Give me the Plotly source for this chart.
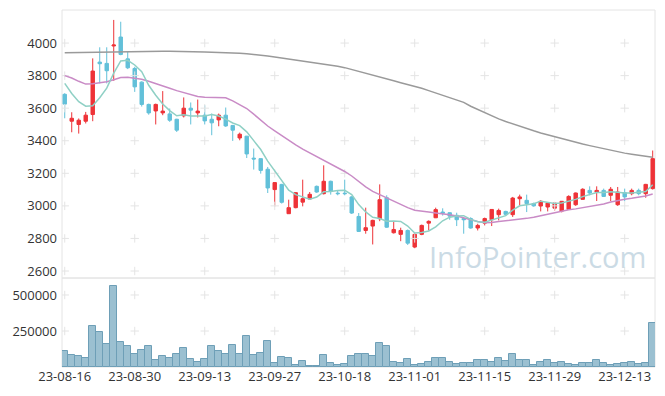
import plotly.graph_objects as go

dates = ["23-08-16","23-08-17","23-08-18","23-08-21","23-08-22","23-08-23","23-08-24","23-08-25","23-08-28","23-08-29",
         "23-08-30","23-08-31","23-09-01","23-09-04","23-09-05","23-09-06","23-09-07","23-09-08","23-09-11","23-09-12",
         "23-09-13","23-09-14","23-09-15","23-09-18","23-09-19","23-09-20","23-09-21","23-09-22","23-09-25","23-09-26",
         "23-09-27","23-10-04","23-10-05","23-10-06","23-10-10","23-10-11","23-10-12","23-10-13","23-10-16","23-10-17",
         "23-10-18","23-10-19","23-10-20","23-10-23","23-10-24","23-10-25","23-10-26","23-10-27","23-10-30","23-10-31",
         "23-11-01","23-11-02","23-11-03","23-11-06","23-11-07","23-11-08","23-11-09","23-11-10","23-11-13","23-11-14",
         "23-11-15","23-11-16","23-11-17","23-11-20","23-11-21","23-11-22","23-11-23","23-11-24","23-11-27","23-11-28",
         "23-11-29","23-11-30","23-12-01","23-12-04","23-12-05","23-12-06","23-12-07","23-12-08","23-12-11","23-12-12",
         "23-12-13","23-12-14","23-12-15","23-12-18","23-12-19"]

opens = [3685,3520,3500,3520,3561,3883,3875,3982,4037,3903,
         3844,3760,3623,3583,3571,3565,3532,3553,3600,3571,
         3557,3532,3528,3557,3494,3417,3428,3293,3290,3225,
         3100,3132,2952,2989,3023,3042,3120,3075,3151,3078,
         3078,3055,2935,2849,2876,2921,3050,2835,2825,2849,
         2747,2825,2894,2927,2962,2958,2942,2922,2922,2864,
         2894,2915,2946,2966,2946,3044,3034,3014,2999,2993,
         2986,2968,2978,3007,3040,3095,3085,3095,3065,3007,
         3081,3075,3095,3075,3106]
highs = [3692,3575,3537,3577,3906,3974,3974,4142,4131,3946,
         3854,3765,3628,3628,3705,3598,3535,3666,3635,3653,
         3618,3567,3567,3604,3497,3450,3430,3352,3292,3239,
         3145,3135,3038,3085,3161,3085,3125,3249,3155,3095,
         3161,3060,2956,2989,2915,3132,3065,2906,2866,2855,
         2830,2885,2911,2989,2985,2960,2958,2925,2930,2890,
         2928,2980,2983,2970,3055,3069,3069,3020,3035,3020,
         3020,3030,3065,3082,3108,3120,3120,3106,3116,3116,
         3106,3106,3106,3135,3340]
lows = [3538,3452,3444,3506,3520,3752,3752,3768,3925,3840,
        3700,3610,3560,3500,3557,3516,3454,3543,3500,3543,
        3500,3434,3489,3485,3399,3403,3294,3223,3198,3079,
        2997,3014,2950,2985,2997,3040,3080,3070,3069,3065,
        3065,2950,2840,2829,2763,2906,2865,2830,2783,2760,
        2740,2820,2849,2925,2940,2915,2876,2829,2860,2849,
        2880,2876,2911,2940,2932,3003,2962,2995,2966,2966,
        2972,2960,2975,3000,3038,3065,3030,3055,3030,3000,
        3028,3065,3065,3050,3100]
closes = [3625,3538,3526,3557,3828,3873,3830,3988,3930,3848,
          3731,3623,3571,3623,3582,3526,3465,3600,3588,3582,
          3522,3510,3557,3491,3465,3440,3319,3288,3218,3110,
          3143,3022,2989,3081,3044,3071,3085,3151,3091,3075,
          3075,2956,2843,2866,2911,3038,2869,2855,2849,2771,
          2825,2880,2905,2977,2955,2937,2915,2915,2864,2880,
          2922,2978,2972,2948,3048,3055,3014,3000,3028,3017,
          3017,3028,3058,3079,3102,3079,3095,3058,3102,3085,
          3055,3095,3075,3132,3290]
volumes = [111000,83000,76000,63000,285000,243000,160000,563000,174000,146000,
           90000,118000,146000,49000,76000,63000,90000,132000,56000,35000,
           56000,146000,111000,90000,153000,90000,215000,83000,97000,181000,
           28000,69000,63000,14000,42000,7000,7000,83000,26000,14000,
           18000,74000,88000,88000,74000,164000,144000,35000,25000,53000,
           12000,18000,32000,60000,60000,32000,18000,25000,25000,46000,
           46000,32000,60000,39000,88000,46000,46000,12000,32000,46000,
           25000,32000,18000,12000,25000,25000,46000,25000,12000,18000,
           25000,32000,18000,25000,303000]

ma5_head = [3752, 3690, 3640, 3612]
ma20_head = [3800, 3785, 3765, 3748, 3750, 3755, 3762, 3775, 3788, 3790,
             3786, 3778, 3765, 3752, 3738, 3722, 3708, 3697, 3686]
ma_long = [3940,3941,3942,3943,3944,3945,3946,3947,3948,3949,
           3950,3950,3950,3950,3950,3949,3949,3948,3947,3946,
           3945,3944,3943,3941,3939,3937,3934,3931,3926,3921,
           3915,3909,3902,3895,3889,3883,3877,3871,3864,3857,
           3849,3838,3827,3815,3803,3791,3780,3768,3756,3746,
           3734,3722,3708,3694,3680,3666,3651,3636,3612,3592,
           3572,3553,3534,3518,3503,3489,3475,3461,3448,3436,
           3425,3413,3402,3391,3380,3370,3360,3350,3340,3332,
           3324,3317,3311,3304,3298]

price_ticks = [2600, 2800, 3000, 3200, 3400, 3600, 3800, 4000]
volume_ticks = [250000, 500000]
tick_dates = dates[0:81:10]


def rolling(vals, n, head):
    out = list(head)
    for i in range(len(head), len(vals)):
        out.append(sum(vals[i - n + 1:i + 1]) / n)
    return out

ma5 = rolling(closes, 5, ma5_head)
ma20 = rolling(closes, 20, ma20_head)

RED = "#ee3338"
BLUE = "#62c0d9"
FONT = "Open Sans"

fig = go.Figure()

fig.add_trace(go.Bar(x=dates, y=volumes, xaxis="x", yaxis="y2", showlegend=False,
                     marker=dict(color="#9bc0d1", line=dict(color="#6e9fb7", width=1))))

# grid crosses
gx, gy = [], []
for d in tick_dates:
    for p in price_ticks:
        gx.append(d); gy.append(p)
fig.add_trace(go.Scatter(x=gx, y=gy, mode="markers", xaxis="x", yaxis="y",
                         marker=dict(symbol="cross-thin", size=6, line=dict(width=1, color="#e4e4e4")),
                         hoverinfo="skip", showlegend=False))
vx, vy = [], []
for d in tick_dates:
    for v in volume_ticks:
        vx.append(d); vy.append(v)
fig.add_trace(go.Scatter(x=vx, y=vy, mode="markers", xaxis="x", yaxis="y2",
                         marker=dict(symbol="cross-thin", size=6, line=dict(width=1, color="#e4e4e4")),
                         hoverinfo="skip", showlegend=False))

fig.add_trace(go.Scatter(x=dates, y=ma_long, mode="lines", line=dict(color="#9a9a9a", width=1.5),
                         xaxis="x", yaxis="y", showlegend=False))
fig.add_trace(go.Scatter(x=dates, y=ma20, mode="lines", line=dict(color="#c98bc6", width=1.5),
                         xaxis="x", yaxis="y", showlegend=False))
fig.add_trace(go.Scatter(x=dates, y=ma5, mode="lines", line=dict(color="#8fd0c5", width=1.5),
                         xaxis="x", yaxis="y", showlegend=False))

fig.add_trace(go.Candlestick(x=dates, open=opens, high=highs, low=lows, close=closes,
                             xaxis="x", yaxis="y", showlegend=False, whiskerwidth=0,
                             increasing=dict(line=dict(color=RED, width=1), fillcolor=RED),
                             decreasing=dict(line=dict(color=BLUE, width=1), fillcolor=BLUE)))

# page body has an 8px default margin; figure is sized to fit the window from (8,8)
W, H = 657, 388
L, T, R, B = 54, 2, 10, 29
plot_h = H - T - B
split = (359 - 270) / float(plot_h)

fig.update_layout(
    width=W, height=H,
    margin=dict(l=L, r=R, t=T, b=B, autoexpand=False),
    paper_bgcolor="white", plot_bgcolor="white",
    font=dict(family=FONT, size=13, color="#333333"),
    bargap=0.0,
    xaxis=dict(type="category", categoryorder="array", categoryarray=dates,
               anchor="y2", range=[-0.39, 84.33], automargin=False,
               tickmode="array", tickvals=tick_dates, ticktext=tick_dates, tickangle=0,
               showgrid=False, zeroline=False, showline=False, ticks="",
               rangeslider=dict(visible=False), tickfont=dict(size=13, color="#333333")),
    yaxis=dict(domain=[split, 1.0], range=[2557, 4203], tickvals=price_ticks, automargin=False,
               showgrid=False, zeroline=False, showline=False, ticks="", ticklabelstandoff=4,
               tickfont=dict(size=13, color="#333333")),
    yaxis2=dict(domain=[0, split], range=[0, 618000], tickvals=volume_ticks, automargin=False,
                ticktext=[str(v) for v in volume_ticks],
                showgrid=False, zeroline=False, showline=False, ticks="", ticklabelstandoff=4,
                tickfont=dict(size=13, color="#333333")),
    shapes=[
        dict(type="rect", xref="paper", yref="paper", x0=0, x1=1, y0=split, y1=1,
             line=dict(color="#e4e4e4", width=1), layer="below"),
        dict(type="rect", xref="paper", yref="paper", x0=0, x1=1, y0=0, y1=split,
             line=dict(color="#e4e4e4", width=1), layer="below"),
    ],
    annotations=[dict(text="InfoPointer.com", xref="paper", yref="paper",
                      x=(640 - 54) / 593.0, y=(359 - 248) / float(plot_h), xanchor="right", yanchor="middle",
                      showarrow=False, font=dict(family=FONT, size=29, color="#cbdbe5"))],
)

fig.write_html("out.html")
